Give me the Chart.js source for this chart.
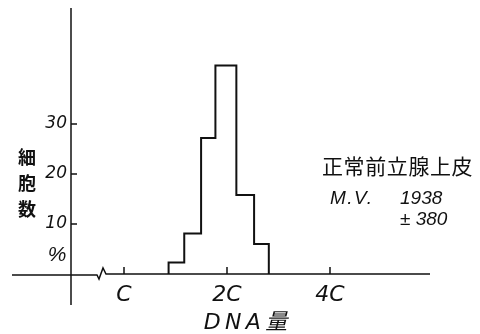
<!DOCTYPE html>
<html>
<head>
<meta charset="utf-8">
<script src="https://cdn.jsdelivr.net/npm/chart.js@4.4.0/dist/chart.umd.min.js"></script>
<style>
  html, body { margin: 0; padding: 0; background: #fff; }
  #wrap { width: 480px; height: 334px; }
</style>
</head>
<body>
<div id="wrap"><canvas id="myChart"></canvas></div>
<script>
// DNA amount (in C units, log axis) and cell percentage per class
const binEdges = [1.35, 1.50, 1.68, 1.85, 2.13, 2.40, 2.65];
const cellPct = [2.3, 8.1, 27.2, 41.7, 15.8, 6.0];
const xTickValues = [1, 2, 4];
const xTickLabels = ['C', '2C', '4C'];
const yTickValues = [10, 20, 30];
const xTitle = 'D\u2009N\u2009A\u2009量';
const yTitleChars = ['細', '胞', '数'];
const yUnit = '%';
const noteTitle = '正常前立腺上皮';
const noteMean = ['M.V.', '1938'];
const noteSd = '± 380';

const ink = '#111';
const latin = '"DejaVu Sans", "Noto Sans CJK JP", sans-serif';

// histogram outline, corner by corner
const points = [{x: binEdges[0], y: 0}];
cellPct.forEach((v, i) => {
    points.push({x: binEdges[i], y: v}, {x: binEdges[i + 1], y: v});
});
points.push({x: binEdges[binEdges.length - 1], y: 0});

const axesPlugin = {
    id: 'axesPlugin',
    afterDraw(chart) {
        const {ctx, chartArea: a, scales: {x, y}} = chart;
        const y0 = y.getPixelForValue(0);
        ctx.save();
        ctx.strokeStyle = ink;
        ctx.lineWidth = 1.5;

        // y axis runs a bit below the x axis
        ctx.beginPath();
        ctx.moveTo(a.left, a.top);
        ctx.lineTo(a.left, y0 + 31);
        ctx.stroke();

        // x axis with break mark
        ctx.beginPath();
        ctx.moveTo(12, y0 + 1);
        ctx.lineTo(a.left + 26, y0 + 1);
        ctx.lineTo(a.left + 28, y0 + 5);
        ctx.lineTo(a.left + 32, y0 - 6);
        ctx.lineTo(a.left + 35, y0);
        ctx.lineTo(430, y0);
        ctx.stroke();

        // tick marks (inside)
        ctx.beginPath();
        yTickValues.forEach(v => {
            const py = y.getPixelForValue(v);
            ctx.moveTo(a.left, py);
            ctx.lineTo(a.left + 6, py);
        });
        xTickValues.forEach(v => {
            const px = x.getPixelForValue(v);
            ctx.moveTo(px, y0);
            ctx.lineTo(px, y0 - 7);
        });
        ctx.stroke();

        ctx.fillStyle = ink;
        ctx.textAlign = 'center';
        ctx.textBaseline = 'middle';
        ctx.font = 'bold 18px "Noto Sans CJK JP"';
        yTitleChars.forEach((c, i) => ctx.fillText(c, 27, 157 + i * 26));
        ctx.font = 'italic 21px "Liberation Sans"';
        ctx.fillText(yUnit, 57, 255);

        ctx.textAlign = 'left';
        ctx.font = '21px "Noto Sans CJK JP"';
        ctx.letterSpacing = '0.6px';
        ctx.fillText(noteTitle, 322, 166);
        ctx.font = 'italic 19px "Liberation Sans"';
        ctx.letterSpacing = '1.5px';
        ctx.fillText(noteMean[0], 330, 199);
        ctx.letterSpacing = '0px';
        ctx.fillText(noteMean[1], 400, 199);
        ctx.fillText(noteSd, 400, 220);
        ctx.restore();
    }
};

const ctx = document.getElementById('myChart').getContext('2d');

const myChart = new Chart(ctx, {
    type: 'line',
    data: {
        datasets: [{
            label: '細胞数 %',
            data: points,
            borderColor: ink,
            borderWidth: 2,
            borderJoinStyle: 'miter',
            pointRadius: 0,
            tension: 0,
            fill: false
        }]
    },
    options: {
        responsive: true,
        maintainAspectRatio: false,
        animation: false,
        layout: { padding: { top: 8, right: 60, left: 0, bottom: 0 } },
        plugins: { legend: { display: false }, tooltip: { enabled: false } },
        scales: {
            x: {
                type: 'logarithmic',
                min: 0.7,
                max: 7.33,
                bounds: 'data',
                grid: { display: false },
                border: { display: false },
                afterBuildTicks: s => { s.ticks = xTickValues.map(v => ({value: v})); },
                afterFit: s => { s.height = 60; s.paddingLeft = 0; s.paddingRight = 0; },
                ticks: {
                    autoSkip: false,
                    maxRotation: 0,
                    padding: 0,
                    color: ink,
                    font: { family: latin, size: 22, style: 'italic' },
                    callback: (v, i) => xTickLabels[i]
                },
                title: {
                    display: true,
                    text: xTitle,
                    color: ink,
                    padding: 0,
                    font: { family: latin, size: 22, style: 'italic', lineHeight: 1 }
                }
            },
            y: {
                min: 0,
                max: 53.2,
                grid: { display: false, drawTicks: false },
                border: { display: false },
                afterBuildTicks: s => { s.ticks = yTickValues.map(v => ({value: v})); },
                afterFit: s => { s.width = 71; s.paddingTop = 0; s.paddingBottom = 0; },
                ticks: {
                    padding: 4,
                    color: ink,
                    font: { family: latin, size: 17, style: 'italic' }
                }
            }
        }
    },
    plugins: [axesPlugin]
});
</script>
</body>
</html>
